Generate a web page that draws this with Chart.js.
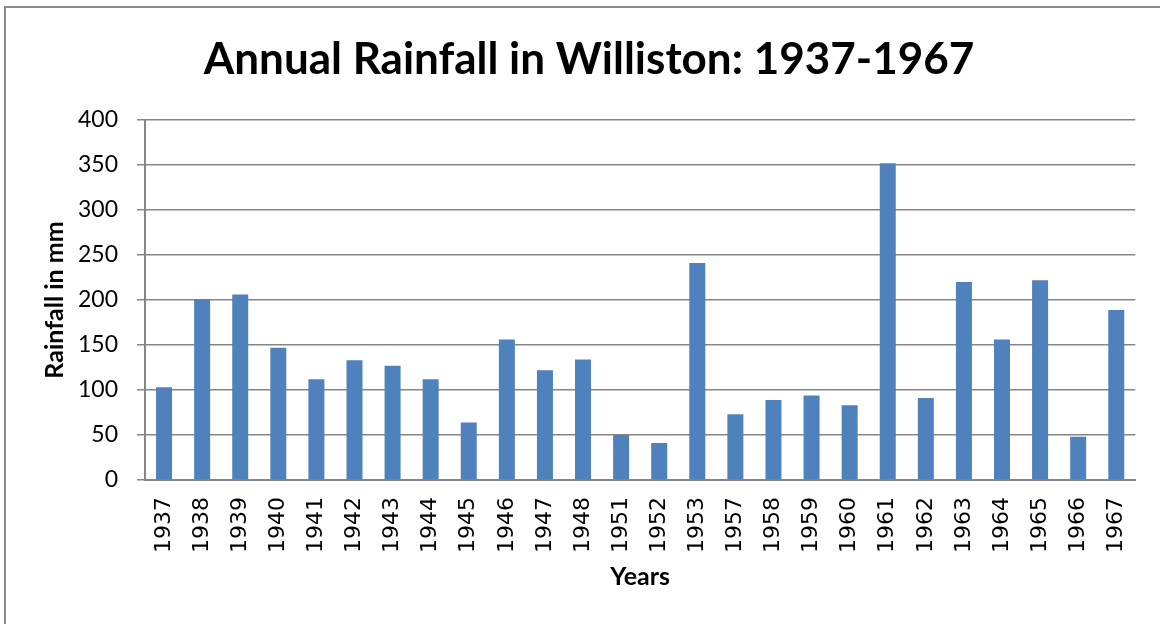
<!DOCTYPE html>
<html>
<head>
<meta charset="utf-8">
<script src="https://cdn.jsdelivr.net/npm/chart.js@4/dist/chart.umd.min.js"></script>
<style>
  html, body { margin: 0; padding: 0; background: #fff; }
  #wrap { width: 1160px; height: 624px; }
</style>
</head>
<body>
<div id="wrap"><canvas id="myChart" width="1160" height="624"></canvas></div>
<script>
const years = ['1937', '1938', '1939', '1940', '1941', '1942', '1943', '1944', '1945', '1946',
    '1947', '1948', '1951', '1952', '1953', '1957', '1958', '1959', '1960', '1961',
    '1962', '1963', '1964', '1965', '1966', '1967'];
const rainfall = [103, 201, 206, 147, 112, 133, 127, 112, 64, 156,
    122, 134, 50, 41, 241, 73, 89, 94, 83, 352,
    91, 220, 156, 222, 48, 189];
const yTicks = [0, 50, 100, 150, 200, 250, 300, 350, 400];

const gridGray = '#868686';

// grey frame round the chart (top and left edges only, like the picture)
const frame = {
    id: 'frame',
    beforeDraw(chart) {
        const c = chart.ctx;
        c.save();
        c.strokeStyle = '#8c8c8c';
        c.lineWidth = 2;
        c.beginPath();
        c.moveTo(5, chart.height);
        c.lineTo(5, 7);
        c.lineTo(chart.width, 7);
        c.stroke();
        c.restore();
    }
};

const ctx = document.getElementById('myChart').getContext('2d');

const myChart = new Chart(ctx, {
    type: 'bar',
    data: {
        labels: years,
        datasets: [{
            label: 'Rainfall',
            data: rainfall,
            backgroundColor: '#4f81bd',
            borderWidth: 0,
            categoryPercentage: 1,
            barPercentage: 0.42
        }]
    },
    options: {
        responsive: false,
        animation: false,
        layout: {
            padding: { top: 12, left: 35, right: 17, bottom: 25 }
        },
        plugins: {
            legend: { display: false },
            tooltip: { enabled: false },
            title: {
                display: true,
                text: 'Annual Rainfall in Williston: 1937-1967',
                color: '#000',
                font: { family: 'Lato', size: 44, weight: 'bold', lineHeight: 1.2 },
                padding: { top: 21.6, bottom: 33.6 }
            }
        },
        scales: {
            x: {
                grid: { display: false, drawTicks: false },
                border: { color: gridGray, width: 2 },
                ticks: {
                    color: '#000',
                    font: { family: 'DejaVu Sans', size: 22 },
                    minRotation: 90,
                    maxRotation: 90,
                    autoSkip: false,
                    padding: 17
                },
                title: {
                    display: true,
                    text: 'Years',
                    color: '#000',
                    font: { family: 'Lato', size: 25, weight: 'bold', lineHeight: 1.2 },
                    padding: { top: 2, bottom: 7 }
                },
                afterFit(scale) { scale.height = 119; }
            },
            y: {
                min: 0,
                max: 400,
                afterBuildTicks(scale) {
                    scale.ticks = yTicks.map(v => ({ value: v }));
                },
                grid: { color: gridGray, lineWidth: 1.5, tickLength: 8 },
                border: { color: gridGray, width: 2 },
                ticks: {
                    color: '#000',
                    font: { family: 'Lato', size: 23 },
                    padding: 19
                },
                title: {
                    display: true,
                    text: 'Rainfall in mm',
                    color: '#000',
                    font: { family: 'Lato', size: 25, weight: 'bold', lineHeight: 1.2 },
                    padding: { top: 5, bottom: 0 }
                },
                afterFit(scale) { scale.width = 110; }
            }
        }
    },
    plugins: [frame]
});
</script>
</body>
</html>
